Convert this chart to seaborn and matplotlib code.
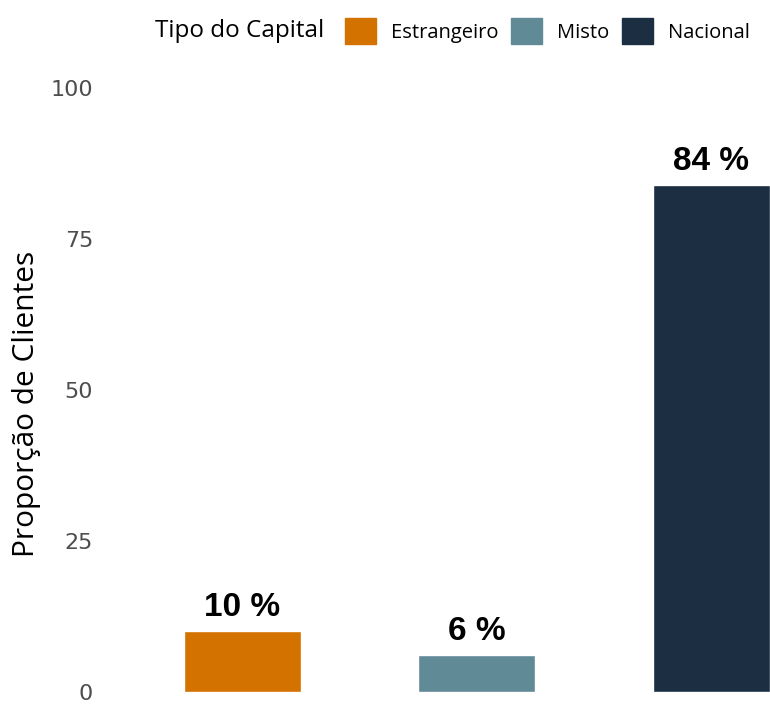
import pandas as pd
import matplotlib.pyplot as plt
import seaborn as sns
from matplotlib.patches import Patch

# data
tipos = ["Estrangeiro", "Misto", "Nacional"]
proporcao = [10, 6, 84]
cores = ["#D47200", "#618A97", "#1B2E42"]
yticks = [0, 25, 50, 75, 100]

df = pd.DataFrame({"Tipo": tipos, "Prop": proporcao})

sns.set_style("white")
plt.rcParams["font.family"] = ["Open Sans", "DejaVu Sans"]

fig = plt.figure(figsize=(7.7, 7.04), dpi=100)
ax = fig.add_axes([101.5 / 770, 12.5 / 704, (770 - 101.5) / 770, 603.5 / 704])

sns.barplot(data=df, x="Tipo", y="Prop", hue="Tipo", palette=cores,
            width=0.5, legend=False, ax=ax, saturation=1)

for i, v in enumerate(proporcao):
    ax.text(i, v + 1.3, f"{v} %", ha="center", va="bottom",
            fontsize=24, fontweight="bold", family="Liberation Sans",
            color="black", clip_on=False)

ax.set_xlim(-0.6, 2.25)
ax.set_ylim(0, 100)
ax.set_yticks(yticks)
ax.set_yticklabels([str(t) for t in yticks], fontsize=16, color="#4D4D4D",
                   family="DejaVu Sans")
ax.tick_params(axis="y", length=0, pad=6)
ax.set_xticks([])
ax.set_xlabel("")
ax.set_ylabel("Proporção de Clientes", fontsize=21.5, color="black")
ax.yaxis.set_label_coords(-60 / 668.5, 0.477)
sns.despine(ax=ax, left=True, bottom=True)

# legend on top
fig.text(155 / 770, 1 - 31 / 704, "Tipo do Capital", fontsize=17.5,
         ha="left", va="center", color="black")
handles = [Patch(facecolor=c, edgecolor=c) for c in cores]
fig.legend(handles, tipos, ncol=3, frameon=False, fontsize=14.5,
           loc="center left", bbox_to_anchor=(345 / 770, 1 - 31 / 704),
           handlelength=1.55, handleheight=1.55, handletextpad=0.75,
           columnspacing=0.6, borderaxespad=0, borderpad=0,
           labelcolor="black")

fig.savefig("out.png", dpi=100)
